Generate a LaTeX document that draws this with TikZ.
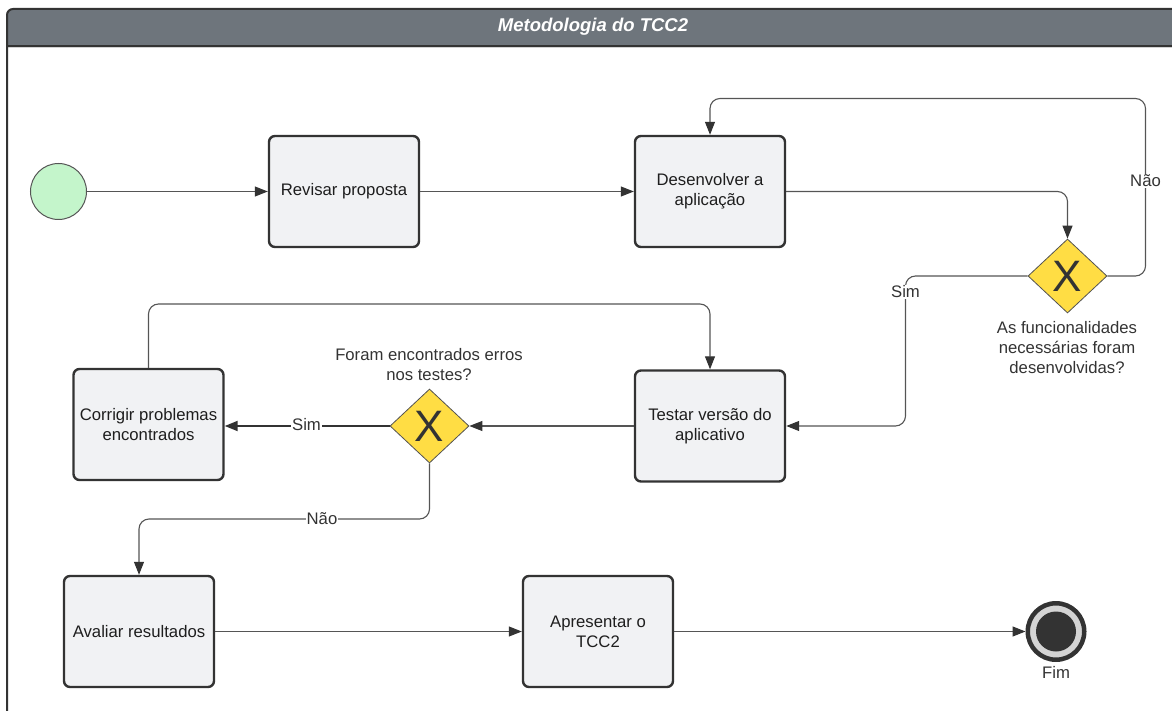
\documentclass[tikz,border=0pt]{standalone}
\usepackage{fontspec}
\setmainfont{Liberation Sans}
\usetikzlibrary{arrows.meta,shapes.geometric}

\definecolor{hdrfill}{HTML}{6E757C}
\definecolor{ink}{HTML}{333333}
\definecolor{textink}{HTML}{1E1E1E}
\definecolor{taskfill}{HTML}{F1F2F4}
\definecolor{gwfill}{HTML}{FFDD44}
\definecolor{startfill}{HTML}{C4F5CB}
\definecolor{wire}{HTML}{555555}
\definecolor{ringfill}{HTML}{D4D4D4}

\begin{document}
\begin{tikzpicture}[x=1pt,y=-1pt,
  txt/.style={font=\fontsize{16.7}{20}\selectfont, text=textink},
  task/.style={txt, draw=ink, line width=2.4pt, fill=taskfill, rounded corners=6pt,
    minimum width=150pt, minimum height=111pt, align=center, inner sep=2pt},
  gateway/.style={diamond, draw=ink!85, line width=0.8pt, fill=gwfill,
    minimum width=79pt, minimum height=74pt, inner sep=0pt,
    font=\fontsize{44}{44}\selectfont, text=ink},
  question/.style={txt, text=ink, align=center},
  flow/.style={draw=wire, line width=1.1pt, rounded corners=10pt,
    -{Triangle[length=13pt,width=10pt,color=ink]}},
  lbl/.style={txt, text=ink, fill=white, inner sep=1pt},
  startev/.style={circle, draw=wire, line width=1pt, fill=startfill, minimum size=56pt, inner sep=0pt},
  endev/.style={circle, draw=ink, line width=4.5pt, fill=ringfill, minimum size=56.5pt, inner sep=0pt}]

\useasboundingbox (0,0) rectangle (1172,711);
\clip (0,0) rectangle (1172,711);

% pool header and frame
\fill[hdrfill, rounded corners=6pt] (7,9) rectangle (1190,60);
\fill[white] (7,46) rectangle (1190,60);
\draw[gray!35, line width=1pt] (8,48) -- (1190,48);
\draw[ink, line width=2pt, rounded corners=6pt] (7,720) -- (7,9) -- (1190,9);
\draw[ink, line width=2pt] (7,46) -- (1190,46);
\node[font=\bfseries\itshape\fontsize{18.5}{20}\selectfont, text=white] (title) at (593,27) {Metodologia do TCC2};

% events and tasks
\node[startev] (start) at (58.5,191.5) {};
\node[task] (revisar) at (344,191.5) {Revisar proposta};
\node[task] (desenv) at (710,191.5) {Desenvolver a\\aplicação};
\node[gateway] (gw1) at (1067.5,276) {X};
\node[question] (q1) at (1067,348) {As funcionalidades\\necessárias foram\\desenvolvidas?};

\node[task] (testar) at (710,426) {Testar versão do\\aplicativo};
\node[gateway] (gw2) at (429.5,426) {X};
\node[question] (q2) at (429,365) {Foram encontrados erros\\nos testes?};
\node[task] (corrigir) at (148.5,424.5) {Corrigir problemas\\encontrados};

\node[task] (avaliar) at (139,631.5) {Avaliar resultados};
\node[task] (apresentar) at (598,631.5) {Apresentar o\\TCC2};
\node[endev] (fim) at (1056,631.5) {};
\fill[ink] (fim.center) circle[radius=20pt];
\node[txt, text=ink] (fimlbl) at (1056,672) {Fim};

% sequence flows
\draw[flow] (start) -- (revisar);
\draw[flow] (revisar) -- (desenv);
\draw[flow] (desenv.east) -| (gw1.north);
\draw[flow] (gw1.east) -| (1145.5,98.5) -| (desenv.north);
\draw[flow] (gw1.west) -| (905.5,426) -- (testar.east);
\draw[flow] (testar) -- (gw2);
\draw[flow, draw=ink, line width=1.8pt] (gw2) -- (gw2 -| corrigir.east);
\draw[flow] (corrigir.north) |- (710,304) -- (testar.north);
\draw[flow] (gw2.south) |- (139,519) -- (avaliar.north);
\draw[flow] (avaliar) -- (apresentar);
\draw[flow] (apresentar) -- (fim);

% flow labels
\node[lbl] (nao1) at (1145.5,181) {Não};
\node[lbl] (sim1) at (905.5,292) {Sim};
\node[lbl] (sim2) at (306.5,425) {Sim};
\node[lbl] (nao2) at (322,519) {Não};
\end{tikzpicture}
\end{document}
